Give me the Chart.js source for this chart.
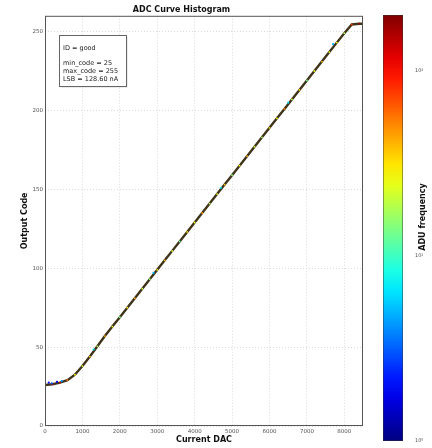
<!DOCTYPE html>
<html>
<head>
<meta charset="utf-8">
<script src="https://cdn.jsdelivr.net/npm/chart.js@4"></script>
<style>
  html, body { margin: 0; padding: 0; background: #fff; }
  #wrap { position: relative; width: 432px; height: 448px; }
  #curveChart { position: absolute; left: 0; top: 0; }
  #colorbarChart { position: absolute; left: 370px; top: 0; }
</style>
</head>
<body>
<div id="wrap">
  <canvas id="curveChart" width="370" height="448"></canvas>
  <canvas id="colorbarChart" width="62" height="448"></canvas>
</div>
<script>
// values
const dacSteps = [0, 200, 400, 600, 800, 1000, 1200, 1400, 1600, 1800, 2000, 2200, 2400, 2600, 2800,
  3000, 3200, 3400, 3600, 3800, 4000, 4200, 4400, 4600, 4800, 5000, 5200, 5400, 5600, 5800,
  6000, 6200, 6400, 6600, 6800, 7000, 7200, 7400, 7600, 7800, 8000, 8200, 8400, 8500];
const outputCodes = [26, 26.5, 27.5, 29, 32.5, 38, 44, 50.5, 57, 63, 69, 75, 81, 87, 93,
  99, 105, 111, 117, 123, 129, 135, 141, 147, 153, 159, 165, 171, 177, 183,
  189, 195, 201, 207, 213, 219, 225, 231, 237, 243, 249, 254.5, 255, 255];
const binCounts = [160, 140, 120, 60, 30, 22, 35, 18, 40, 25, 14, 30, 45, 20, 16,
  28, 38, 22, 12, 33, 26, 48, 19, 24, 36, 15, 29, 42, 21, 17,
  31, 27, 55, 20, 34, 13, 25, 40, 23, 30, 18, 80, 170, 190];

// sparse low-count bins next to the curve
const sparseDac = [100, 180, 320, 450, 1300, 2900, 4700, 6500, 7700];
const sparseCodes = [27.5, 27, 28, 28.5, 48.5, 97, 151, 205, 242];
const sparseCounts = [2, 3, 2, 4, 6, 5, 7, 6, 5];

const xTicks = [0, 1000, 2000, 3000, 4000, 5000, 6000, 7000, 8000];
const yTicks = [0, 50, 100, 150, 200, 250];
const colorbarRange = [1, 200];
const colorbarTicks = [1, 10, 100];
const infoLines = ['ID = good', '', 'min_code = 25', 'max_code = 255', 'LSB = 128.60 nA'];

const FONT = '"DejaVu Sans", sans-serif';
const TEXT = '#555';

function jetColor(count) {
  const t = Math.max(0, Math.min(1, Math.log10(count) / Math.log10(colorbarRange[1])));
  const clamp = v => Math.round(255 * Math.max(0, Math.min(1, v)));
  const r = clamp(1.5 - Math.abs(4 * t - 3));
  const g = clamp(1.5 - Math.abs(4 * t - 2));
  const b = clamp(1.5 - Math.abs(4 * t - 1));
  return `rgb(${r}, ${g}, ${b})`;
}

const framePlugin = {
  id: 'frame',
  afterDraw(chart) {
    const { ctx, chartArea: a } = chart;
    ctx.save();
    ctx.strokeStyle = '#555';
    ctx.lineWidth = 1;
    ctx.strokeRect(a.left + 0.5, a.top + 0.5, a.right - a.left - 1, a.bottom - a.top - 1);

    // info box
    const bx = 59, by = 35, bw = 67, bh = 51;
    ctx.fillStyle = 'rgba(0,0,0,0.15)';
    ctx.fillRect(bx + 1.5, by + 1.5, bw, bh);
    ctx.fillStyle = '#fff';
    ctx.fillRect(bx, by, bw, bh);
    ctx.strokeStyle = '#666';
    ctx.strokeRect(bx + 0.5, by + 0.5, bw, bh);
    ctx.fillStyle = '#222';
    ctx.font = `6.5px ${FONT}`;
    ctx.textBaseline = 'middle';
    let y = by + 13;
    infoLines.forEach(line => {
      if (line) ctx.fillText(line, bx + 4, y);
      y += line ? 8 : 7;
    });
    ctx.restore();
  },
};

const tickFont = { family: FONT, size: 5.5 };
const titleFont = { family: FONT, size: 8, weight: 'bold' };

new Chart(document.getElementById('curveChart'), {
  type: 'scatter',
  data: {
    datasets: [
      {
        type: 'line',
        data: dacSteps.map((x, i) => ({ x, y: outputCodes[i] })),
        borderColor: '#3f3419',
        borderWidth: 2.4,
        pointRadius: 0,
        tension: 0,
        order: 3,
      },
      {
        data: dacSteps.map((x, i) => ({ x, y: outputCodes[i] })),
        pointRadius: 0.9,
        pointBorderWidth: 0,
        pointBackgroundColor: binCounts.map(jetColor),
        order: 2,
      },
      {
        data: sparseDac.map((x, i) => ({ x, y: sparseCodes[i] })),
        pointRadius: 1.1,
        pointBorderWidth: 0,
        pointBackgroundColor: sparseCounts.map(jetColor),
        order: 1,
      },
    ],
  },
  options: {
    responsive: false,
    animation: false,
    layout: { padding: { right: 7 } },
    plugins: {
      legend: { display: false },
      tooltip: { enabled: false },
      title: {
        display: true,
        text: 'ADC Curve Histogram',
        color: '#111',
        font: titleFont,
        padding: { top: 5, bottom: 1.2 },
      },
    },
    scales: {
      x: {
        type: 'linear',
        min: 0,
        max: 8500,
        afterFit: scale => { scale.height = 22; },
        afterBuildTicks: scale => { scale.ticks = xTicks.map(value => ({ value })); },
        ticks: { color: TEXT, font: tickFont, padding: 2, callback: value => String(value) },
        grid: { color: '#d2d2d2', lineWidth: 0.8, drawTicks: false },
        border: { display: false, dash: [1, 2] },
        title: { display: true, text: 'Current DAC', color: '#111', font: titleFont, padding: { bottom: 3 } },
      },
      y: {
        type: 'linear',
        min: 0,
        max: 260,
        afterFit: scale => { scale.width = 45; },
        afterBuildTicks: scale => { scale.ticks = yTicks.map(value => ({ value })); },
        ticks: { color: TEXT, font: tickFont, padding: 2, callback: value => String(value) },
        grid: { color: '#d2d2d2', lineWidth: 0.8, drawTicks: false },
        border: { display: false, dash: [1, 2] },
        title: { display: true, text: 'Output Code', color: '#111', font: titleFont, padding: { top: 20 } },
      },
    },
  },
  plugins: [framePlugin],
});

const superscripts = ['\u2070', '\u00b9', '\u00b2', '\u00b3'];

const colorbarTitle = {
  id: 'colorbarTitle',
  afterDraw(chart) {
    const { ctx } = chart;
    ctx.save();
    ctx.translate(53, 217);
    ctx.rotate(-Math.PI / 2);
    ctx.fillStyle = '#111';
    ctx.font = `bold 8px ${FONT}`;
    ctx.textAlign = 'center';
    ctx.textBaseline = 'middle';
    ctx.fillText('ADU frequency', 0, 0);
    ctx.restore();
  },
};

new Chart(document.getElementById('colorbarChart'), {
  type: 'bar',
  data: {
    labels: ['ADU frequency'],
    datasets: [{
      data: [colorbarRange],
      backgroundColor: context => {
        const area = context.chart.chartArea;
        if (!area) return '#888';
        const g = context.chart.ctx.createLinearGradient(0, area.bottom, 0, area.top);
        for (let i = 0; i <= 20; i++) {
          const t = i / 20;
          g.addColorStop(t, jetColor(Math.pow(colorbarRange[1], t)));
        }
        return g;
      },
      borderColor: '#333',
      borderWidth: 0.8,
      borderSkipped: false,
      barPercentage: 1,
      categoryPercentage: 1,
    }],
  },
  options: {
    responsive: false,
    animation: false,
    layout: { padding: { left: 13, top: 15, bottom: 6 } },
    plugins: { legend: { display: false }, tooltip: { enabled: false } },
    scales: {
      x: { display: false },
      y: {
        type: 'logarithmic',
        position: 'right',
        min: colorbarRange[0],
        max: colorbarRange[1],
        afterFit: scale => { scale.width = 29; },
        grid: { display: false },
        border: { display: false },
        ticks: {
          autoSkip: false,
          color: TEXT,
          font: { family: FONT, size: 5 },
          padding: 4,
          callback: value => colorbarTicks.includes(value) ? '10' + superscripts[Math.round(Math.log10(value))] : '',
        },
      },
    },
  },
  plugins: [colorbarTitle],
});
</script>
</body>
</html>
